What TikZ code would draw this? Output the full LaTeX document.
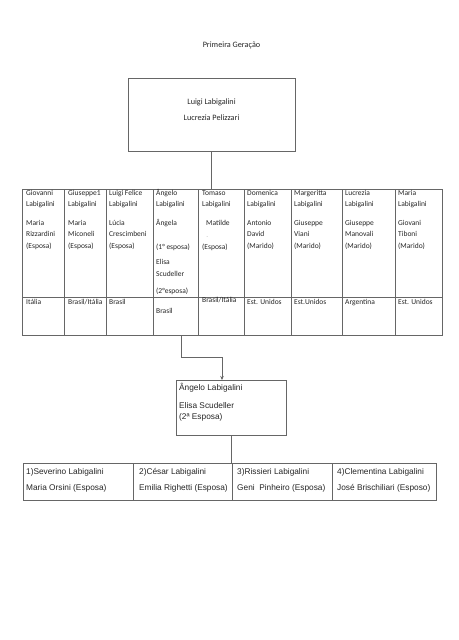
\documentclass[tikz,border=0pt]{standalone}
\usepackage{fontspec}
\setmainfont{Carlito}
\newfontfamily\arialf{Liberation Sans}
\usetikzlibrary{arrows.meta,calc}
\begin{document}
\begin{tikzpicture}[x=1pt,y=-1pt,
  ln/.style={draw=black!60, line width=0.6pt},
  cell/.style={ln, anchor=north west, inner sep=0, outer sep=0},
  txt/.style={anchor=mid west, inner sep=0, text=black!85},
  tc/.style={txt, font=\fontsize{7.5}{9}\selectfont},
  ta/.style={txt, font=\arialf\fontsize{8.3}{10}\selectfont},
  tb/.style={inner sep=0, text=black!85, font=\fontsize{8.2}{10}\selectfont}]
\fill[white] (0,0) rectangle (458,640);
\useasboundingbox (0,0) rectangle (458,640);

% title
\node[tb] (title) at (231.5,45) {Primeira Geração};

% top box
\node[cell, minimum width=167pt, minimum height=73pt] (top) at (128,78) {};
\node[tb] (luigi) at (211.5,102.5) {Luigi Labigalini};
\node[tb] (lucrezia) at (211.5,118) {Lucrezia Pelizzari};

% table cells (top row)
\node[cell, minimum width=42pt, minimum height=108pt] (c1) at (22,189) {};
\node[cell, minimum width=42pt, minimum height=108pt] (c2) at (64,189) {};
\node[cell, minimum width=47pt, minimum height=108pt] (c3) at (106,189) {};
\node[cell, minimum width=45pt, minimum height=108pt] (c4) at (153,189) {};
\node[cell, minimum width=46pt, minimum height=108pt] (c5) at (198,189) {};
\node[cell, minimum width=47pt, minimum height=108pt] (c6) at (244,189) {};
\node[cell, minimum width=51pt, minimum height=108pt] (c7) at (291,189) {};
\node[cell, minimum width=53pt, minimum height=108pt] (c8) at (342,189) {};
\node[cell, minimum width=47pt, minimum height=108pt] (c9) at (395,189) {};
% table cells (bottom row)
\node[cell, minimum width=42pt, minimum height=38pt] (p1) at (22,297) {};
\node[cell, minimum width=42pt, minimum height=38pt] (p2) at (64,297) {};
\node[cell, minimum width=47pt, minimum height=38pt] (p3) at (106,297) {};
\node[cell, minimum width=45pt, minimum height=38pt] (p4) at (153,297) {};
\node[cell, minimum width=46pt, minimum height=38pt] (p5) at (198,297) {};
\node[cell, minimum width=47pt, minimum height=38pt] (p6) at (244,297) {};
\node[cell, minimum width=51pt, minimum height=38pt] (p7) at (291,297) {};
\node[cell, minimum width=53pt, minimum height=38pt] (p8) at (342,297) {};
\node[cell, minimum width=47pt, minimum height=38pt] (p9) at (395,297) {};

% column 1
\node[tc] (a1) at (26,193) {Giovanni};
\node[tc] (a2) at (26,204.5) {Labigalini};
\node[tc] (a3) at (26,223) {Maria};
\node[tc] (a4) at (26,234.5) {Rizzardini};
\node[tc] (a5) at (26,246) {(Esposa)};
% column 2
\node[tc] (b1) at (68,193) {Giuseppe1};
\node[tc] (b2) at (68,204.5) {Labigalini};
\node[tc] (b3) at (68,223) {Maria};
\node[tc] (b4) at (68,234.5) {Miconeli};
\node[tc] (b5) at (68,246) {(Esposa)};
% column 3
\node[tc] (d1) at (109,193) {Luigi Felice};
\node[tc] (d2) at (109,204.5) {Labigalini};
\node[tc] (d3) at (109,223) {Lúcia};
\node[tc] (d4) at (109,234.5) {Crescimbeni};
\node[tc] (d5) at (109,246) {(Esposa)};
% column 4
\node[tc] (e1) at (156,193) {Ângelo};
\node[tc] (e2) at (156,204.5) {Labigalini};
\node[tc] (e3) at (156,223) {Ângela};
\node[tc] (e4) at (156,247) {(1° esposa)};
\node[tc] (e5) at (156,262) {Elisa};
\node[tc] (e6) at (156,274) {Scudeller};
\node[tc] (e7) at (156,291) {(2°esposa)};
% column 5
\node[tc] (f1) at (202,193) {Tomaso};
\node[tc] (f2) at (202,204.5) {Labigalini};
\node[tc] (f3) at (206,223) {Matilde};
\node[tc, text=black!40, font=\fontsize{5}{6}\selectfont] (f4) at (206.5,236.5) {-};
\node[tc] (f5) at (202,247.5) {(Esposa)};
% column 6
\node[tc] (g1) at (247,193) {Domenica};
\node[tc] (g2) at (247,204.5) {Labigalini};
\node[tc] (g3) at (247,223) {Antonio};
\node[tc] (g4) at (247,234.5) {David};
\node[tc] (g5) at (247,246) {(Marido)};
% column 7
\node[tc] (h1) at (294,193) {Margeritta};
\node[tc] (h2) at (294,204.5) {Labigalini};
\node[tc] (h3) at (294,223) {Giuseppe};
\node[tc] (h4) at (294,234.5) {Viani};
\node[tc] (h5) at (294,246) {(Marido)};
% column 8
\node[tc] (k1) at (345,193) {Lucrezia};
\node[tc] (k2) at (345,204.5) {Labigalini};
\node[tc] (k3) at (345,223) {Giuseppe};
\node[tc] (k4) at (345,234.5) {Manovali};
\node[tc] (k5) at (345,246) {(Marido)};
% column 9
\node[tc] (m1) at (398,193) {Maria};
\node[tc] (m2) at (398,204.5) {Labigalini};
\node[tc] (m3) at (398,223) {Giovani};
\node[tc] (m4) at (398,234.5) {Tiboni};
\node[tc] (m5) at (398,246) {(Marido)};

% bottom row texts
\node[tc] (r1) at (26,302) {Itália};
\node[tc] (r2) at (68,302) {Brasil/Itália};
\node[tc] (r3) at (109,302) {Brasil};
\node[tc] (r4) at (156,311) {Brasil};
\node[tc] (r5) at (202,300.5) {Brasil/Itália};
\node[tc] (r6) at (247,302) {Est. Unidos};
\node[tc] (r7) at (294,302) {Est.Unidos};
\node[tc] (r8) at (345,302) {Argentina};
\node[tc] (r9) at (398,302) {Est. Unidos};

% second box
\node[cell, minimum width=110pt, minimum height=55pt] (box) at (176,380) {};
\node[ta] (s1) at (179,388) {Ângelo Labigalini};
\node[ta] (s2) at (179,406) {Elisa Scudeller};
\node[ta] (s3) at (179,417) {(2ª Esposa)};

% bottom table
\node[cell, minimum width=110pt, minimum height=37pt] (q1) at (23,463) {};
\node[cell, minimum width=99pt, minimum height=37pt] (q2) at (133,463) {};
\node[cell, minimum width=100pt, minimum height=37pt] (q3) at (232,463) {};
\node[cell, minimum width=104pt, minimum height=37pt] (q4) at (332,463) {};
\node[ta] (u1) at (26,472) {1)Severino Labigalini};
\node[ta] (v1) at (26,488) {Maria Orsini (Esposa)};
\node[ta] (u2) at (139,472) {2)César Labigalini};
\node[ta] (v2) at (139,488) {Emilia Righetti (Esposa)};
\node[ta] (u3) at (237,472) {3)Rissieri Labigalini};
\node[ta] (v3) at (237,488) {Geni\ \ Pinheiro (Esposa)};
\node[ta] (u4) at (337,472) {4)Clementina Labigalini};
\node[ta] (v4) at (337,488) {José Brischiliari (Esposo)};

% connectors
\draw[ln] (top.south) -- (top.south |- c5.north);
\draw[ln, -{Stealth[length=4pt,width=3.5pt]}] ([xshift=5.5pt]p4.south) -- ++(0,22) -| ([xshift=-9pt]box.north);
\draw[ln] (box.south) -- (box.south |- q2.north);
\end{tikzpicture}
\end{document}
